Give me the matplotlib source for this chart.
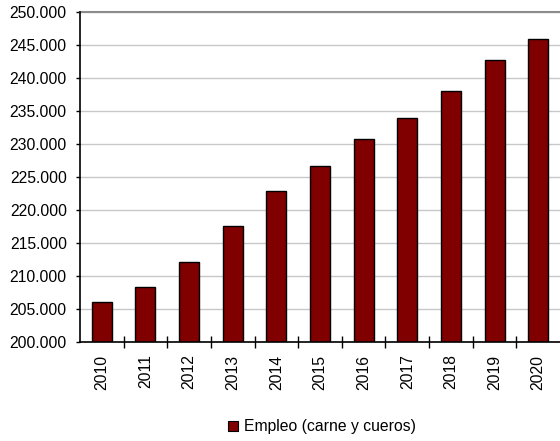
import matplotlib.pyplot as plt
from matplotlib.ticker import FuncFormatter, MultipleLocator
from matplotlib.patches import Patch

plt.rcParams['font.family'] = ['Liberation Sans', 'DejaVu Sans']

years = ['2010', '2011', '2012', '2013', '2014', '2015',
         '2016', '2017', '2018', '2019', '2020']
empleo = [206000, 208300, 212100, 217500, 222900, 226600,
          230700, 233900, 238000, 242800, 245900]
series_label = 'Empleo (carne y cueros)'

bar_color = '#800000'
fs = 11.3

fig = plt.figure(figsize=(5.6, 4.41), dpi=100)
ax = fig.add_axes([80 / 560, 1 - 342 / 441, 480 / 560, 330 / 441])

x = list(range(len(years)))
ax.bar(x, empleo, width=0.46, color=bar_color, edgecolor='black',
       linewidth=1.0, zorder=3)

ax.set_ylim(200000, 250000)
ax.set_xlim(-0.5, len(years) - 0.5)
ax.yaxis.set_major_locator(MultipleLocator(5000))
ax.yaxis.set_major_formatter(
    FuncFormatter(lambda v, p: f'{v:,.0f}'.replace(',', '.')))
ax.grid(axis='y', color='#c8c8c8', linewidth=1.0, zorder=0)

# category labels centred on bars, tick marks between categories
ax.set_xticks(x)
ax.set_xticklabels(years, rotation=90, fontsize=fs)
ax.tick_params(axis='x', which='major', length=0, pad=9)
ax.set_xticks([i + 0.5 for i in x[:-1]], minor=True)
ax.tick_params(axis='x', which='minor', direction='inout', length=9,
               width=1.0, color='black')
ax.tick_params(axis='y', direction='out', length=3, width=1.0,
               labelsize=fs, pad=6.5)

for s in ('left', 'bottom'):
    ax.spines[s].set_color('black')
    ax.spines[s].set_linewidth(1.2)
    ax.spines[s].set_zorder(4)
ax.spines['top'].set_color('#8c8c8c')
ax.spines['top'].set_linewidth(1.5)
ax.spines['right'].set_visible(False)

handle = Patch(facecolor=bar_color, edgecolor='black', linewidth=0.8)
fig.legend([handle], [series_label], loc='center',
           bbox_to_anchor=(322 / 560, 1 - 427 / 441), frameon=False,
           fontsize=fs, handlelength=0.6, handleheight=0.6,
           handletextpad=0.4, borderpad=0)

fig.savefig('out.png', dpi=100)
